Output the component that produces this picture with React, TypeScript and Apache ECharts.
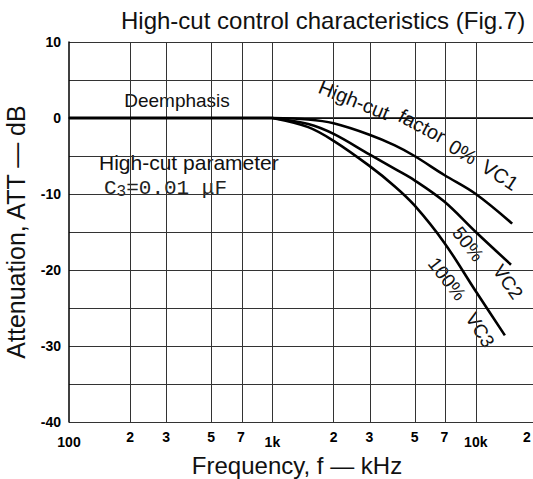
import React, { useEffect, useRef } from 'react';
import * as echarts from 'echarts';

const titleText = 'High-cut control characteristics (Fig.7)';
const xName = 'Frequency, f \u2014 kHz';
const yName = 'Attenuation, ATT \u2014 dB';

const xTickFreqs = [100, 200, 300, 500, 700, 1000, 2000, 3000, 5000, 7000, 10000, 20000];
const xTickLabels = ['100', '2', '3', '5', '7', '1k', '2', '3', '5', '7', '10k', '2'];
const xGridFreqs = [200, 300, 500, 700, 1000, 2000, 3000, 5000, 7000, 10000, 20000];
const yMin = -40;
const yMax = 10;
const yGridStep = 5;
const yLabelStep = 10;

const deemphFreq = [100, 1000];
const deemphDb = [0, 0];
const vc1Freq = [1000, 1500, 2000, 3000, 4000, 5000, 7000, 10000, 15100];
const vc1Db = [0, -0.2, -0.7, -2.2, -3.6, -5.0, -7.5, -10.0, -13.9];
const vc2Freq = [1000, 1500, 2000, 3000, 4000, 5000, 7000, 10000, 14900];
const vc2Db = [0, -0.8, -2.1, -4.8, -6.7, -8.2, -11.0, -15.0, -19.3];
const vc3Freq = [1000, 1500, 2000, 3000, 4000, 5000, 7000, 10000, 13900];
const vc3Db = [0, -1.2, -3.0, -6.3, -9.0, -11.5, -16.4, -22.8, -28.6];

const SANS = '"Liberation Sans", Arial, sans-serif';
const MONO = '"Liberation Mono", "DejaVu Sans Mono", monospace';
const deg = (d: number) => (d * Math.PI) / 180;

const toPts = (f: number[], v: number[]) => f.map((x, i) => [Math.log10(x), v[i]]);

const labelFor = (val: number) => {
  let best = 0;
  let bd = Infinity;
  xTickFreqs.forEach((f, i) => {
    const d = Math.abs(Math.log10(f) - val);
    if (d < bd) { bd = d; best = i; }
  });
  const t = xTickLabels[best];
  if (best === xTickFreqs.length - 1) return `{e|${t}}`;
  return t.length > 1 ? `{d|${t}}` : `{n|${t}}`;
};

const curveStyle = { color: '#000', width: 2.6 };

const curveText = (text: string, x: number, y: number, rot: number, size = 20) => ({
  type: 'text',
  x,
  y,
  rotation: -deg(rot),
  silent: true,
  style: {
    text,
    align: 'center',
    verticalAlign: 'middle',
    fill: '#111',
    font: `${size}px ${SANS}`,
  },
});

export default function App() {
  const ref = useRef<HTMLDivElement>(null);
  useEffect(() => {
    const chart = echarts.init(ref.current!, null, { renderer: 'svg' });
    const option: any = {
      animation: false,
      backgroundColor: '#fff',
      title: {
        text: titleText,
        left: 116,
        top: 3,
        textStyle: { fontFamily: SANS, fontSize: 24, fontWeight: 'normal', color: '#111' },
      },
      grid: { left: 69, right: -4, top: 42, bottom: 57, containLabel: false, outerBoundsMode: 'none' },
      xAxis: {
        type: 'value',
        min: 2,
        max: Math.log10(20000),
        name: xName,
        nameLocation: 'middle',
        nameGap: 29,
        nameTextStyle: { fontFamily: SANS, fontSize: 24, color: '#111', padding: [0, 12, 0, 0] },
        axisLine: { show: true, lineStyle: { color: '#000', width: 1.5 } },
        axisTick: { show: false },
        splitLine: { show: false },
        axisLabel: {
          customValues: xTickFreqs.map((f) => Math.log10(f)),
          formatter: (v: number) => labelFor(v),
          margin: 8,
          color: '#000',
          rich: {
            n: { fontFamily: SANS, fontSize: 14, fontWeight: 'bold', color: '#000' },
            d: { fontFamily: SANS, fontSize: 14, fontWeight: 'bold', color: '#000', padding: [5, 0, 0, 0] },
            e: { fontFamily: SANS, fontSize: 14, fontWeight: 'bold', color: '#000', padding: [0, 20, 0, 0] },
          },
        },
      },
      yAxis: {
        type: 'value',
        min: yMin,
        max: yMax,
        interval: yGridStep,
        name: yName,
        nameLocation: 'middle',
        nameRotate: 90,
        nameGap: 41,
        nameTextStyle: { fontFamily: SANS, fontSize: 25, color: '#111' },
        axisLine: { show: true, lineStyle: { color: '#000', width: 1.5 } },
        axisTick: { show: false },
        axisLabel: {
          formatter: (v: number) => (v % yLabelStep === 0 ? String(v) : ''),
          fontFamily: SANS,
          fontSize: 14,
          fontWeight: 'bold',
          color: '#000',
          margin: 8,
        },
        splitLine: { show: true, lineStyle: { color: '#333', width: 1 } },
      },
      series: [
        {
          name: 'Deemphasis',
          type: 'line',
          data: toPts(deemphFreq, deemphDb),
          showSymbol: false,
          lineStyle: { color: '#000', width: 3 },
          z: 5,
          markLine: {
            silent: true,
            symbol: 'none',
            label: { show: false },
            lineStyle: { color: '#333', width: 1, type: 'solid' },
            data: xGridFreqs.map((f) => ({ xAxis: Math.log10(f) })),
            z: 1,
          },
        },
        { name: 'VC1', type: 'line', data: toPts(vc1Freq, vc1Db), showSymbol: false, smooth: 0.35, lineStyle: curveStyle, z: 5 },
        { name: 'VC2', type: 'line', data: toPts(vc2Freq, vc2Db), showSymbol: false, smooth: 0.35, lineStyle: curveStyle, z: 5 },
        { name: 'VC3', type: 'line', data: toPts(vc3Freq, vc3Db), showSymbol: false, smooth: 0.35, lineStyle: curveStyle, z: 5 },
      ],
      graphic: [
        {
          type: 'text', x: 177, y: 100, silent: true,
          style: { text: 'Deemphasis', align: 'center', verticalAlign: 'middle', fill: '#111', font: `19px ${SANS}`, backgroundColor: '#fff' },
        },
        {
          type: 'text', x: 99, y: 162, silent: true,
          style: { text: 'High-cut parameter', align: 'left', verticalAlign: 'middle', fill: '#111', font: `21px ${SANS}`, backgroundColor: '#fff' },
        },
        {
          type: 'text', x: 104, y: 188, silent: true,
          style: {
            text: '{a|C}{s|3}{a|=0.01 \u03bcF}',
            align: 'left',
            verticalAlign: 'middle',
            backgroundColor: '#fff',
            rich: {
              a: { fontFamily: MONO, fontSize: 21, fill: '#222' },
              s: { fontFamily: MONO, fontSize: 16, fill: '#222', padding: [8, 0, 0, 0] },
            },
          },
        },
        curveText('High-cut', 354, 100, 22),
        curveText('factor', 422, 126, 28),
        curveText('0%', 463, 152, 31),
        curveText('VC1', 500, 175, 33),
        curveText('50%', 468, 244, 52, 19),
        curveText('VC2', 508, 282, 55, 19),
        curveText('100%', 447, 279, 52, 19),
        curveText('VC3', 480, 330, 58, 19),
      ],
    };
    chart.setOption(option);
    return () => chart.dispose();
  }, []);
  return <div ref={ref} style={{ position: 'absolute', left: 0, top: 0, width: 533, height: 479 }} />;
}
